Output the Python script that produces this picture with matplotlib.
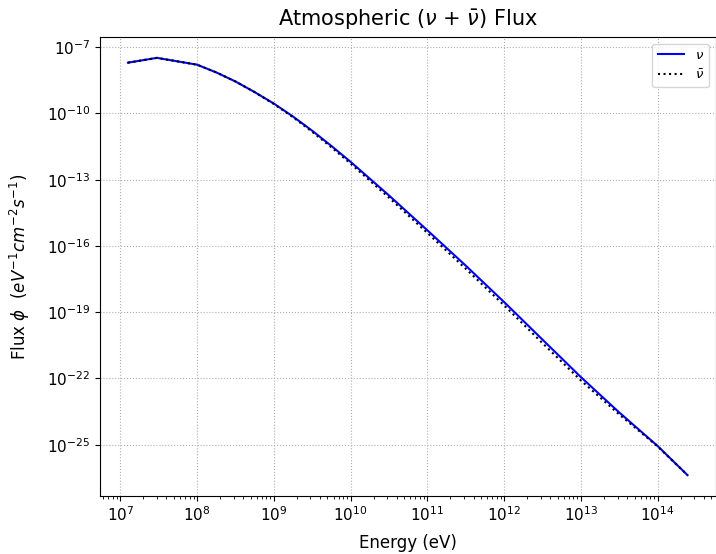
import matplotlib
matplotlib.use("Agg")
import matplotlib.pyplot as plt
from matplotlib.ticker import FixedLocator, NullLocator

# energies (eV) and fluxes
energy = [1.26e7, 3.0e7, 1.0e8, 1.78e8, 3.16e8, 5.62e8, 1.0e9, 1.78e9, 3.16e9,
          5.62e9, 1.0e10, 3.16e10, 1.0e11, 3.16e11, 1.0e12, 3.16e12, 1.0e13,
          3.16e13, 1.0e14, 2.45e14]
flux_nu = [2.0e-8, 3.3e-8, 1.62e-8, 7.24e-9, 2.82e-9, 9.3e-10, 2.82e-10,
           7.24e-11, 1.66e-11, 3.39e-12, 6.46e-13, 1.95e-14, 5.13e-16,
           1.29e-17, 2.88e-19, 5.75e-21, 1.15e-22, 2.88e-24, 8.7e-26, 4.17e-27]
flux_nubar = [2.0e-8, 3.3e-8, 1.62e-8, 7.24e-9, 2.82e-9, 9.3e-10, 2.69e-10,
              6.76e-11, 1.48e-11, 2.95e-12, 5.37e-13, 1.55e-14, 3.89e-16,
              9.33e-18, 2.04e-19, 3.98e-21, 8.13e-23, 2.34e-24, 8.3e-26,
              4.17e-27]

xticks = [1e7, 1e8, 1e9, 1e10, 1e11, 1e12, 1e13, 1e14]
yticks = [1e-7, 1e-10, 1e-13, 1e-16, 1e-19, 1e-22, 1e-25]

fig = plt.figure(figsize=(7.16, 5.54), dpi=100)
ax = fig.add_axes([100 / 716, 58 / 554, 615.5 / 716, 459 / 554])

ax.plot(energy, flux_nu, color="blue", linewidth=1.5, label=r"$\nu$")
ax.plot(energy, flux_nubar, color="black", linestyle=":", linewidth=1.5,
        label=r"$\bar{\nu}$")

ax.set_xscale("log")
ax.set_yscale("log")
ax.xaxis.set_major_locator(FixedLocator(xticks))
ax.yaxis.set_major_locator(FixedLocator(yticks))
ax.yaxis.set_minor_locator(NullLocator())

ax.set_title(r"Atmospheric ($\nu$ + $\bar{\nu}$) Flux", fontsize=15, pad=8)
ax.set_xlabel("Energy (eV)", fontsize=12)
ax.set_ylabel(r"Flux $\phi$  $(eV^{-1} cm^{-2} s^{-1})$", fontsize=12)
ax.yaxis.set_label_coords(-0.110, 0.5)
ax.xaxis.set_label_coords(0.5, -0.083)
ax.tick_params(axis="both", which="major", labelsize=11)

ax.grid(True, which="major", linestyle=":")
ax.legend(loc="upper right", fontsize=9.5)

plt.savefig("out.png", dpi=100)
